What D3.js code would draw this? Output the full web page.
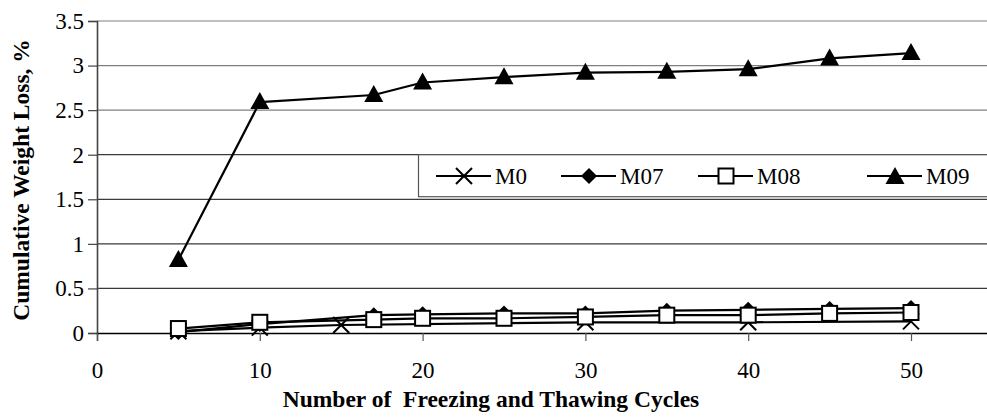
<!DOCTYPE html>
<html>
<head>
<meta charset="utf-8">
<script src="https://cdn.jsdelivr.net/npm/d3@7"></script>
<style>
  html, body { margin: 0; padding: 0; background: #fff; }
  svg { display: block; }
  svg text { font-family: "Liberation Serif"; }
</style>
</head>
<body>
<svg id="chart" width="987" height="417"></svg>
<script>
// Freeze–thaw cycle counts and cumulative weight loss (%) per mix
const cyclesM0 = [5, 10, 15, 30, 40, 50];
const lossM0 = [0.02, 0.06, 0.09, 0.12, 0.12, 0.13];

const cyclesMix = [5, 10, 17, 20, 25, 30, 35, 40, 45, 50];
const lossM07 = [0.01, 0.10, 0.20, 0.21, 0.22, 0.22, 0.25, 0.26, 0.27, 0.28];
const lossM08 = [0.05, 0.12, 0.15, 0.165, 0.165, 0.18, 0.20, 0.20, 0.22, 0.23];
const lossM09 = [0.82, 2.59, 2.67, 2.81, 2.87, 2.92, 2.93, 2.96, 3.08, 3.14];

const seriesNames = ["M0", "M07", "M08", "M09"];
const markerKinds = ["cross", "diamond", "square", "triangle"];

const xTicks = [0, 10, 20, 30, 40, 50];
const yTicks = [0, 0.5, 1, 1.5, 2, 2.5, 3, 3.5];
const yTickLabels = ["0", "0.5", "1", "1.5", "2", "2.5", "3", "3.5"];

const series = [
  { name: seriesNames[0], kind: markerKinds[0], xs: cyclesM0, ys: lossM0 },
  { name: seriesNames[1], kind: markerKinds[1], xs: cyclesMix, ys: lossM07 },
  { name: seriesNames[2], kind: markerKinds[2], xs: cyclesMix, ys: lossM08 },
  { name: seriesNames[3], kind: markerKinds[3], xs: cyclesMix, ys: lossM09 }
];

const SERIF = '"Liberation Serif"';
const svg = d3.select("#chart");
const plotLeft = 97, plotTop = 21, plotBottom = 333;
const x = d3.scaleLinear().domain([0, 55]).range([plotLeft, plotLeft + 55 * 16.28]);
const y = d3.scaleLinear().domain([0, 3.5]).range([plotBottom, plotTop]);

// horizontal gridlines
svg.append("g").selectAll("line").data(yTicks.filter(v => v > 0)).join("line")
  .attr("x1", plotLeft).attr("x2", x(55))
  .attr("y1", d => y(d)).attr("y2", d => y(d))
  .attr("stroke", d => d >= 2.5 ? "#808080" : "#3a3a3a").attr("stroke-width", 1.2);

// y axis
const yAxis = d3.axisLeft(y).tickValues(yTicks)
  .tickFormat((d, i) => yTickLabels[i]).tickSize(9).tickPadding(4);
const gy = svg.append("g").attr("transform", `translate(${plotLeft},0)`).call(yAxis)
  .attr("font-family", null).attr("font-size", null);
gy.select(".domain").attr("stroke", "#444").attr("stroke-width", 1.6);
gy.selectAll(".tick line").attr("stroke", "#444").attr("stroke-width", 1.2);
gy.selectAll(".tick text").style("font-family", SERIF).style("font-size", "23px").attr("fill", "#000");

// x axis
const xAxis = d3.axisBottom(x).tickValues(xTicks).tickSize(8).tickPadding(21);
const gx = svg.append("g").attr("transform", `translate(0,${plotBottom})`).call(xAxis)
  .attr("font-family", null).attr("font-size", null);
gx.select(".domain").attr("stroke", "#000").attr("stroke-width", 1.4);
gx.selectAll(".tick line").attr("stroke", "#555").attr("stroke-width", 1.2);
gx.selectAll(".tick text").style("font-family", SERIF).style("font-size", "23px").attr("fill", "#000");

// marker shapes
function drawMarker(g, kind, cx, cy) {
  if (kind === "cross") {
    const s = 8;
    g.append("path").attr("d", `M${cx - s},${cy - s}L${cx + s},${cy + s}M${cx - s},${cy + s}L${cx + s},${cy - s}`)
      .attr("stroke", "#000").attr("stroke-width", 2).attr("fill", "none");
  } else if (kind === "diamond") {
    const s = 8;
    g.append("path").attr("d", `M${cx},${cy - s}L${cx + s},${cy}L${cx},${cy + s}L${cx - s},${cy}Z`)
      .attr("fill", "#000");
  } else if (kind === "square") {
    const s = 7.5;
    g.append("rect").attr("x", cx - s).attr("y", cy - s).attr("width", 2 * s).attr("height", 2 * s)
      .attr("fill", "#fff").attr("stroke", "#000").attr("stroke-width", 2);
  } else {
    g.append("path").attr("d", `M${cx},${cy - 10}L${cx + 9.5},${cy + 7}L${cx - 9.5},${cy + 7}Z`)
      .attr("fill", "#000");
  }
}

const line = d3.line();
series.forEach(s => {
  const g = svg.append("g");
  const pts = s.xs.map((v, i) => [x(v), y(s.ys[i])]);
  g.append("path").attr("d", line(pts)).attr("fill", "none")
    .attr("stroke", "#000").attr("stroke-width", 2.2).attr("stroke-linejoin", "round");
  pts.forEach(p => drawMarker(g, s.kind, p[0], p[1]));
});

// legend
const lg = svg.append("g");
lg.append("rect").attr("x", 418.5).attr("y", y(2)).attr("width", 600).attr("height", 42)
  .attr("fill", "#fff").attr("stroke", "#555").attr("stroke-width", 1.2);
const legendX = [436, 561, 698, 867];
const legendY = 176;
series.forEach((s, i) => {
  const x0 = legendX[i];
  lg.append("line").attr("x1", x0).attr("x2", x0 + 55).attr("y1", legendY).attr("y2", legendY)
    .attr("stroke", "#000").attr("stroke-width", 2);
  drawMarker(lg, s.kind, x0 + 28, s.kind === "triangle" ? legendY + 1 : legendY);
  lg.append("text").attr("x", x0 + 59).attr("y", legendY + 7.5)
    .style("font-family", SERIF).style("font-size", "23px").text(s.name);
});

// axis titles
svg.append("text").attr("x", 491).attr("y", 407).attr("text-anchor", "middle")
  .style("font-family", SERIF).style("font-size", "23.5px").style("font-weight", "bold")
  .style("white-space", "pre")
  .text("Number of  Freezing and Thawing Cycles");
svg.append("text").attr("transform", "translate(29,180) rotate(-90)")
  .attr("text-anchor", "middle")
  .style("font-family", SERIF).style("font-size", "23.5px").style("font-weight", "bold")
  .text("Cumulative Weight Loss, %");
</script>
</body>
</html>
